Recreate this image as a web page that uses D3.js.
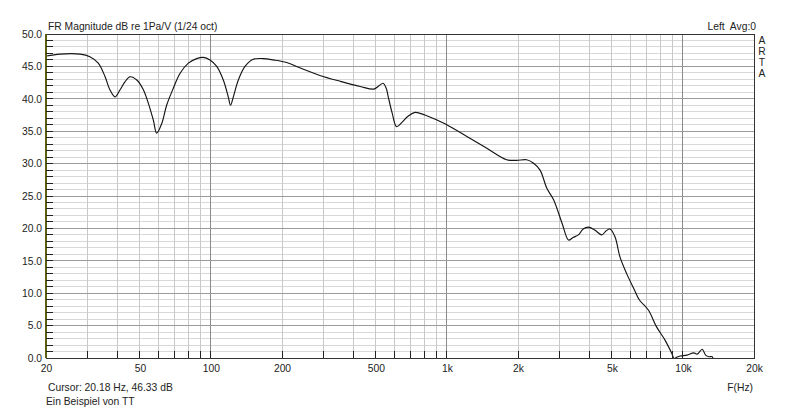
<!DOCTYPE html>
<html><head><meta charset="utf-8">
<script src="https://cdn.jsdelivr.net/npm/d3@7"></script>
<style>
html,body{margin:0;padding:0;background:#fff;}
svg text{font-family:"Liberation Sans",Arial,sans-serif;font-size:10.3px;fill:#222;}
</style></head>
<body><svg id="c" width="800" height="411"></svg>
<script>
// Frequency (Hz) and magnitude (dB)
const freqs = [20.1,22.9,27.9,30.7,33.3,35.6,37.3,39.2,41.2,43.2,45.4,48.5,51.7,54.3,57.0,58.9,61.9,64.9,69.2,73.9,80.2,87.0,92.8,99.1,105.8,112.8,118.4,121,124.4,130.6,139.4,151.1,166.7,183.7,209.4,238,289.6,352.8,429,490,515,536,552,564,586,612,646,684,733,806,872,998,1214,1470,1790,1968,2176,2322,2480,2650,2833,3074,3276,3422,3606,3776,3978,4228,4526,4720,4908,5152,5408,5760,6230,6540,7134,7730,8384,8972,9176,9452,9740,10400,11110,11490,12070,12470,12900,13300,13500];
const dB = [46.6,46.9,46.9,46.5,45.5,43.4,41.4,40.3,41.4,42.6,43.4,42.9,41.4,39.3,36.7,34.7,36.2,39.0,41.6,43.9,45.5,46.2,46.4,46.0,45.0,42.9,40.3,39.0,40.3,42.9,45.0,46.1,46.2,46.0,45.6,44.8,43.6,42.7,41.9,41.5,42.0,42.4,41.7,40.3,37.8,35.7,36.4,37.3,37.9,37.5,37.0,36.0,34.2,32.4,30.6,30.5,30.6,30.1,29.0,26.2,24.4,20.8,18.2,18.6,19.0,19.9,20.2,19.75,19.0,19.6,19.9,18.7,15.6,13.1,10.5,8.95,7.4,4.8,2.8,0.7,-0.1,0.15,0.3,0.45,0.8,0.6,1.35,0.45,0.2,0.2,-1.5];
const xTicks = [20,30,40,50,60,70,80,90,100,200,300,400,500,600,700,800,900,1000,2000,3000,4000,5000,6000,7000,8000,9000,10000,20000];
const xLabels = [[20,"20"],[50,"50"],[100,"100"],[200,"200"],[500,"500"],[1000,"1k"],[2000,"2k"],[5000,"5k"],[10000,"10k"],[20000,"20k"]];
const decades = [100,1000,10000];
const yMajor = [0,5,10,15,20,25,30,35,40,45,50];
const yMinor = d3.range(0,51,1);
const title = "FR Magnitude dB re 1Pa/V (1/24 oct)";
const topRight = "Left  Avg:0";
const sideLetters = ["A","R","T","A"];
const cursorText = "Cursor: 20.18 Hz, 46.33 dB";
const footText = "Ein Beispiel von TT";
const xTitle = "F(Hz)";

const L=46,R=754,T=34,B=358;
const FS=10.3;
const svg=d3.select("#c");
const x=d3.scaleLog().domain([20,20000]).range([L,R]);
const y=d3.scaleLinear().domain([0,50]).range([B,T]);

// minor horizontal grid
svg.append("g").selectAll("line").data(yMinor.filter(v=>v%5!==0)).join("line")
 .attr("x1",L).attr("x2",R).attr("y1",d=>y(d)).attr("y2",d=>y(d))
 .attr("stroke","#d8d8d8").attr("stroke-width",1).attr("shape-rendering","crispEdges");
// vertical grid
svg.append("g").selectAll("line").data(xTicks.filter(v=>v>20&&v<20000)).join("line")
 .attr("x1",d=>x(d)).attr("x2",d=>x(d)).attr("y1",T).attr("y2",B)
 .attr("stroke",d=>decades.includes(d)?"#8a8a8a":"#c8c8c8").attr("stroke-width",1).attr("shape-rendering","crispEdges");
// major horizontal grid
svg.append("g").selectAll("line").data(yMajor.filter(v=>v>0&&v<50)).join("line")
 .attr("x1",L).attr("x2",R).attr("y1",d=>y(d)).attr("y2",d=>y(d))
 .attr("stroke","#9a9a9a").attr("stroke-width",1).attr("shape-rendering","crispEdges");

// curve
svg.append("clipPath").attr("id","clip").append("rect").attr("x",L).attr("y",T).attr("width",R-L).attr("height",B-T+0.5);
const pts=freqs.map((f,i)=>[f,dB[i]]);
svg.append("path").datum(pts).attr("clip-path","url(#clip)")
 .attr("d",d3.line().x(d=>x(d[0])).y(d=>y(d[1])).curve(d3.curveCatmullRom.alpha(0.5)))
 .attr("fill","none").attr("stroke","#151515").attr("stroke-width",1.15);

// frame
svg.append("rect").attr("x",L).attr("y",T).attr("width",R-L).attr("height",B-T)
 .attr("fill","none").attr("stroke","#333").attr("stroke-width",1).attr("shape-rendering","crispEdges");
svg.append("line").attr("x1",L).attr("x2",L).attr("y1",T).attr("y2",B).attr("stroke","#5f5f10").attr("stroke-width",1.5).attr("shape-rendering","crispEdges");

// left ticks (each dB)
svg.append("g").selectAll("line").data(yMinor.filter(v=>v>0&&v<50)).join("line")
 .attr("x1",L).attr("x2",L+7).attr("y1",d=>y(d)).attr("y2",d=>y(d))
 .attr("stroke","#222").attr("shape-rendering","crispEdges");
// bottom ticks
svg.append("g").selectAll("line").data(xTicks.filter(v=>v>20&&v<20000)).join("line")
 .attr("x1",d=>x(d)).attr("x2",d=>x(d)).attr("y1",B).attr("y2",B-7)
 .attr("stroke","#222").attr("shape-rendering","crispEdges");

// y axis labels
const yAxis=d3.axisLeft(y).tickValues(yMajor).tickFormat(d3.format(".1f")).tickSize(0).tickPadding(4);
const ga=svg.append("g").attr("transform",`translate(${L},0)`).call(yAxis);
ga.select(".domain").remove();
ga.selectAll("text").attr("font-family","Liberation Sans, Arial, sans-serif").attr("font-size",FS).attr("fill","#222");

// x axis labels
const xAxis=d3.axisBottom(x).tickValues(xLabels.map(d=>d[0])).tickFormat(d=>new Map(xLabels).get(d)).tickSize(0).tickPadding(7);
const gx=svg.append("g").attr("transform",`translate(0,${B})`).call(xAxis);
gx.select(".domain").remove();
gx.selectAll("text").attr("font-family","Liberation Sans, Arial, sans-serif").attr("font-size",FS).attr("fill","#222");

// texts
svg.append("text").attr("x",48).attr("y",30).text(title);
svg.append("text").attr("x",756).attr("y",30).attr("text-anchor","end").style("white-space","pre").text(topRight);
svg.append("g").selectAll("text").data(sideLetters).join("text")
 .attr("x",762).attr("y",(d,i)=>44+i*11).attr("text-anchor","middle").attr("font-size",11).text(d=>d);
svg.append("text").attr("x",48).attr("y",391).text(cursorText);
svg.append("text").attr("x",46).attr("y",405).text(footText);
svg.append("text").attr("x",753).attr("y",391).attr("text-anchor","end").text(xTitle);
</script></body></html>
